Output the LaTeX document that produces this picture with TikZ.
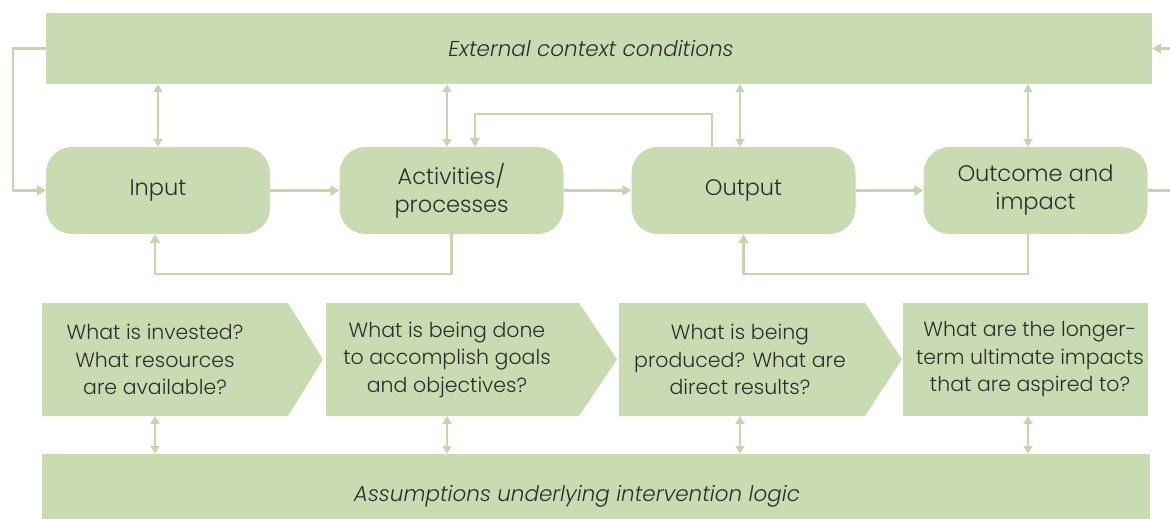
\documentclass[tikz,border=0pt]{standalone}
\usepackage{fontspec}
\setmainfont{Poppins Light}[ItalicFont={Poppins Light Italic}]
\usetikzlibrary{arrows.meta,calc}
\definecolor{boxg}{RGB}{201,220,177}
\definecolor{lineg}{RGB}{196,214,171}
\definecolor{txt}{RGB}{45,45,45}
\tikzset{
  band/.style={fill=boxg, draw=none, inner sep=0pt},
  bandtext/.style={text=txt, font=\itshape\fontsize{21.5}{26}\selectfont, inner sep=0pt},
  stagebox/.style={fill=boxg, draw=none, rounded corners=26pt, minimum width=224pt, minimum height=87pt, text=txt, align=center, font=\fontsize{22.5}{28}\selectfont, inner sep=0pt},
  qtext/.style={text=txt, align=center, font=\fontsize{20.5}{27.5}\selectfont, inner sep=0pt},
  arr/.style={draw=lineg, line width=2.5pt, -{Triangle[length=9pt,width=10pt]}},
  darr/.style={draw=lineg, line width=2.5pt, {Triangle[length=8pt,width=9pt]}-{Triangle[length=8pt,width=9pt]}},
  chev/.style={fill=boxg, draw=none}
}
\begin{document}
\begin{tikzpicture}[x=1pt,y=-1pt]
\clip (0,0) rectangle (1170,519);
\fill[white] (0,0) rectangle (1170,519);
% bands
\node[band, minimum width=1106pt, minimum height=71pt] (ext) at (599,48.5) {};
\node[bandtext] (extt) at (591,48.5) {External context conditions};
\node[band, minimum width=1108pt, minimum height=86pt] (asm) at (596,497) {};
\node[bandtext] (asmt) at (577,496) {Assumptions underlying intervention logic};
% stage boxes
\node[stagebox] (in)  at (158,190.5) {Input};
\node[stagebox] (act) at (451.5,190.5) {Activities/\\processes};
\node[stagebox] (out) at (743.5,190.5) {Output};
\node[stagebox] (oc)  at (1035.5,190.5) {Outcome and\\impact};
% chevrons
\fill[chev] (42,303) -- (288,303) -- (323,359.5) -- (288,416) -- (42,416) -- cycle;
\fill[chev] (326,303) -- (579,303) -- (617,359.5) -- (579,416) -- (326,416) -- cycle;
\fill[chev] (619,303) -- (865,303) -- (902,359.5) -- (865,416) -- (619,416) -- cycle;
\fill[chev] (903,303) -- (1148,303) -- (1148,416) -- (903,416) -- cycle;
\node[qtext] (q1) at (155,359.5) {What is invested?\\What resources\\are available?};
\node[qtext] (q2) at (447,359.5) {What is being done\\to accomplish goals\\and objectives?};
\node[qtext] (q3) at (740,359.5) {What is being\\produced? What are\\direct results?};
\node[qtext] (q4) at (1030,359.5) {What are the longer-\\term ultimate impacts\\that are aspired to?};
\coordinate (q1b) at (155,416); \coordinate (q2b) at (447,416);
\coordinate (q3b) at (740,416); \coordinate (q4b) at (1028,416);
% main flow
\draw[arr] (in.east) -- (act.west);
\draw[arr] (act.east) -- (out.west);
\draw[arr] (out.east) -- (oc.west);
% context links
\draw[darr] (ext.south -| in.north) -- (in.north);
\draw[darr] ([xshift=-4.5pt]ext.south -| act.north) -- ([xshift=-4.5pt]act.north);
\draw[darr] ([xshift=-3.5pt]ext.south -| out.north) -- ([xshift=-3.5pt]out.north);
\draw[darr] ([xshift=-7.5pt]ext.south -| oc.north) -- ([xshift=-7.5pt]oc.north);
% feedback loops
\draw[arr] ([xshift=-31.5pt]out.north) -- ++(0,-33) -| ([xshift=23.5pt]act.north);
\draw[arr] (act.south) -- ++(0,40) -| ([xshift=-3pt]in.south);
\draw[arr] ([xshift=-7.5pt]oc.south) -- ++(0,40) -| (out.south);
\draw[arr] (ext.west) -- (13,48.5) |- (in.west);
\draw[arr] (oc.east) -- (1190,190.5) |- (ext.east);
% assumption links
\draw[darr] (q1b) -- (q1b |- asm.north);
\draw[darr] (q2b) -- (q2b |- asm.north);
\draw[darr] (q3b) -- (q3b |- asm.north);
\draw[darr] (q4b) -- (q4b |- asm.north);
\end{tikzpicture}
\end{document}
